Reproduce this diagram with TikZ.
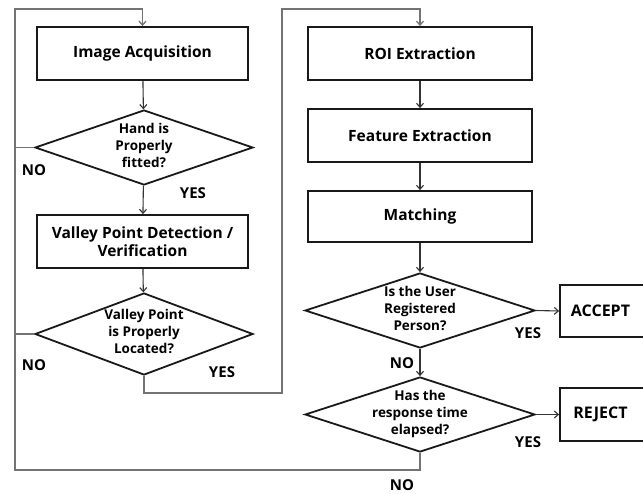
\documentclass[tikz,border=0pt]{standalone}
\usepackage{fontspec}
\setmainfont{Open Sans}
\usetikzlibrary{shapes.geometric,arrows.meta}
\tikzset{
  boxnode/.style={draw=black!90, line width=1.8pt, rectangle, inner sep=0pt, font=\bfseries\fontsize{15.5}{18}\selectfont},
  decnode/.style={draw=black!90, line width=1.8pt, diamond, inner sep=0pt, font=\bfseries\fontsize{13.5}{17}\selectfont},
  lbl/.style={inner sep=0pt, font=\bfseries\fontsize{15}{17}\selectfont},
  conn/.style={draw=black!80, line width=1.1pt, -{Straight Barb[length=4pt,width=7pt]}},
  loopline/.style={draw=black!55, line width=1.3pt},
  looparrow/.style={draw=black!55, line width=1.3pt, -{Straight Barb[length=4pt,width=7pt]}}
}
\newcommand{\dtext}[1]{\raisebox{-3pt}[0pt][0pt]{\makebox[0pt]{\begin{tabular}{@{}c@{}}#1\end{tabular}}}}
\begin{document}
\begin{tikzpicture}[x=1pt,y=-1pt]
\useasboundingbox (0,0) rectangle (643,493);
% left column
\node[boxnode, minimum width=211pt, minimum height=53pt] (acq) at (142.5,53.5) {Image Acquisition};
\node[decnode, minimum width=218pt, minimum height=75pt] (d1) at (144,147.5) {\dtext{Hand is\\Properly\\fitted?}};
\node[boxnode, minimum width=211pt, minimum height=53pt, align=center] (val) at (142.5,241.5) {Valley Point Detection /\\Verification};
\node[decnode, minimum width=218pt, minimum height=82pt] (d2) at (144,334) {\dtext{Valley Point\\is Properly\\Located?}};
% right column
\node[boxnode, minimum width=224pt, minimum height=53pt] (roi) at (420,53.5) {ROI Extraction};
\node[boxnode, minimum width=224pt, minimum height=53pt] (feat) at (420,135.5) {Feature Extraction};
\node[boxnode, minimum width=224pt, minimum height=51pt] (match) at (420,216.5) {Matching};
\node[decnode, minimum width=230pt, minimum height=75pt] (d3) at (420,310.5) {\dtext{Is the User\\Registered\\Person?}};
\node[decnode, minimum width=230pt, minimum height=75pt] (d4) at (420,414.5) {\dtext{Has the\\response time\\elapsed?}};
\node[boxnode, minimum width=84pt, minimum height=52pt, font=\bfseries\fontsize{16}{18}\selectfont] (acc) at (602,311) {\hspace*{-3pt}ACCEPT};
\node[boxnode, minimum width=84pt, minimum height=53pt, font=\bfseries\fontsize{16}{18}\selectfont] (rej) at (602,414.5) {\hspace*{-3pt}REJECT};
% loop coordinates
\coordinate (tl) at (15,9);
\coordinate (bl) at (15,470);
\coordinate (mid) at (282,393);
\coordinate (tm) at (282,9);
% connectors
\draw[conn] (acq) -- (d1);
\draw[conn] (d1) -- (val);
\draw[conn] (val) -- (d2);
\draw[conn] (roi) -- (feat);
\draw[conn] (feat) -- (match);
\draw[conn] (match) -- (d3);
\draw[conn] (d3) -- (d4);
\draw[conn] (d3.east) -- (acc.west);
\draw[conn] (d4.east) -- (rej.west);
\draw[loopline] (d1.west) -- (d1.west -| tl);
\draw[loopline] (d2.west) -- (d2.west -| tl);
\draw[looparrow] (d4.south) |- (bl) -- (tl) -| (acq.north);
\draw[looparrow] (d2.south) |- (mid) -- (tm) -| (roi.north);
% labels
\node[lbl] (no1) at (34,170) {NO};
\node[lbl] (yes1) at (193,193) {YES};
\node[lbl] (no2) at (34,365) {NO};
\node[lbl] (yes2) at (222,372) {YES};
\node[lbl] (yes3) at (528,333) {YES};
\node[lbl] (no3) at (402,363) {NO};
\node[lbl] (yes4) at (528,442) {YES};
\node[lbl] (no4) at (402,485) {NO};
\end{tikzpicture}
\end{document}
